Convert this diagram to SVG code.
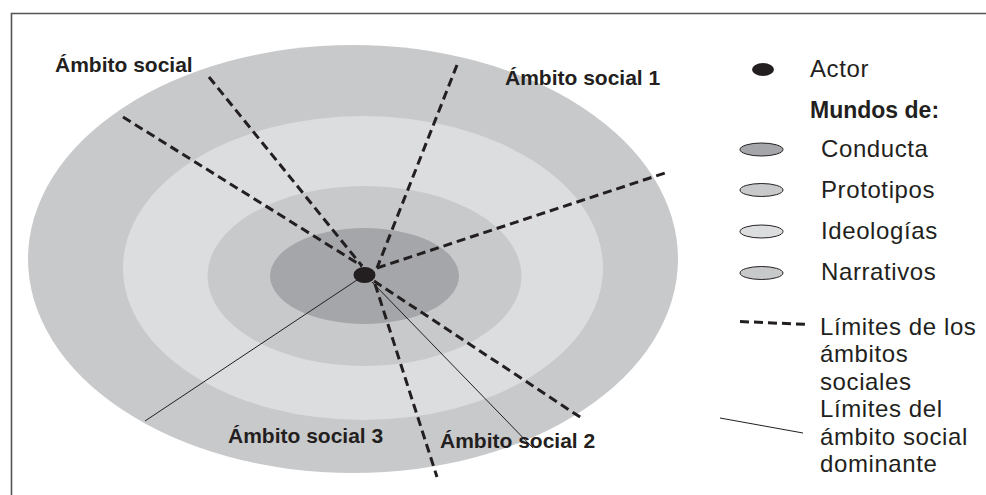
<svg xmlns="http://www.w3.org/2000/svg" width="986" height="495" viewBox="0 0 986 495">
<style>
.lbl{font-family:"Liberation Sans",Arial,sans-serif;font-weight:bold;font-size:21px;fill:#231f20}
.leg{font-family:"Liberation Sans",Arial,sans-serif;font-size:24px;letter-spacing:0.6px;fill:#231f20}
.legb{font-family:"Liberation Sans",Arial,sans-serif;font-weight:bold;font-size:23px;fill:#231f20}
.dash{stroke:#231f20;stroke-width:3;stroke-dasharray:9 5;fill:none}
.thin{stroke:#231f20;stroke-width:1;fill:none}
.sw{stroke:#231f20;stroke-width:1}
</style>
<rect width="986" height="495" fill="#ffffff"/>
<path d="M11.5 495 V13.5 H986" fill="none" stroke="#555" stroke-width="1.6"/>
<g id="mundos">
<ellipse id="narrativos" cx="353" cy="259" rx="325" ry="214" fill="#c8c9cb"/>
<ellipse id="ideologias" cx="363" cy="268" rx="240" ry="152" fill="#dcdddf"/>
<ellipse id="prototipos" cx="364.5" cy="276" rx="157" ry="90" fill="#c8c9cb"/>
<ellipse id="conducta" cx="364.5" cy="276" rx="94.5" ry="48" fill="#a5a6a9"/>
</g>
<g id="connectors">
<line class="dash" x1="123" y1="117" x2="362" y2="266"/>
<line class="dash" x1="209" y1="77" x2="362" y2="266"/>
<line class="dash" x1="457" y1="65" x2="377" y2="268"/>
<line class="dash" x1="377" y1="268" x2="668" y2="172"/>
<line class="dash" x1="375" y1="284" x2="437" y2="477"/>
<line class="dash" x1="374" y1="281" x2="583" y2="419"/>
<line class="thin" x1="357" y1="280" x2="145" y2="421"/>
<line class="thin" x1="372" y1="282" x2="533" y2="448"/>
</g>
<g id="actor"><ellipse cx="364.5" cy="275" rx="11" ry="8" fill="#231f20"/></g>
<g id="labels">
<text class="lbl" x="55" y="72">Ámbito social</text>
<text class="lbl" x="505" y="85">Ámbito social 1</text>
<text class="lbl" x="228" y="443">Ámbito social 3</text>
<text class="lbl" x="440" y="448">Ámbito social 2</text>
</g>
<g id="legend">
<g id="leg-actor"><ellipse cx="763" cy="69.5" rx="11" ry="6.5" fill="#231f20"/><text class="leg" x="810" y="77">Actor</text></g>
<text class="legb" x="810" y="118">Mundos de:</text>
<g id="leg-conducta"><ellipse class="sw" cx="761.5" cy="149.5" rx="21.5" ry="6.5" fill="#a5a6a9"/><text class="leg" x="821" y="157">Conducta</text></g>
<g id="leg-prototipos"><ellipse class="sw" cx="761.5" cy="190" rx="21.5" ry="6.5" fill="#c8c9cb"/><text class="leg" x="821" y="198">Prototipos</text></g>
<g id="leg-ideologias"><ellipse class="sw" cx="761.5" cy="231.5" rx="21.5" ry="6.5" fill="#dcdddf"/><text class="leg" x="821" y="239">Ideologías</text></g>
<g id="leg-narrativos"><ellipse class="sw" cx="761.5" cy="273" rx="21.5" ry="6.5" fill="#c8c9cb"/><text class="leg" x="821" y="280">Narrativos</text></g>
<g id="leg-limites"><line class="dash" x1="740" y1="321.5" x2="808" y2="324.5"/>
<text class="leg" x="820" y="335">Límites de los</text>
<text class="leg" x="820" y="362">ámbitos</text>
<text class="leg" x="820" y="390">sociales</text></g>
<g id="leg-dominante"><line class="thin" x1="720" y1="418" x2="803" y2="433"/>
<text class="leg" x="820" y="417">Límites del</text>
<text class="leg" x="820" y="445">ámbito social</text>
<text class="leg" x="820" y="472">dominante</text></g>
</g>
</svg>
